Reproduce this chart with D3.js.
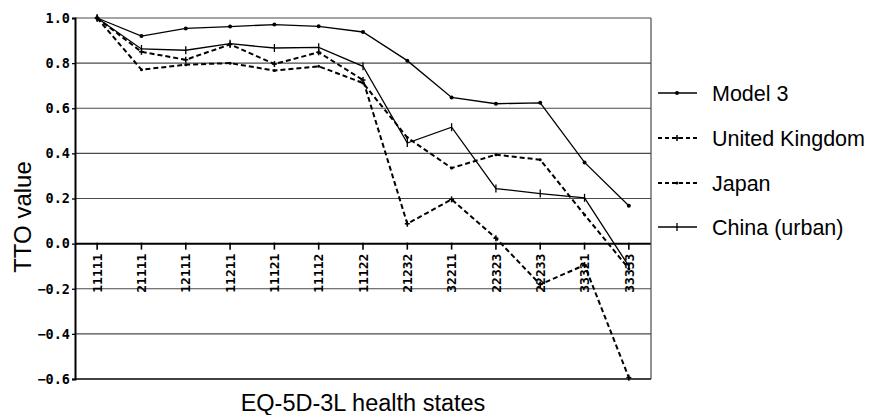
<!DOCTYPE html>
<html><head><meta charset="utf-8">
<script src="https://cdn.jsdelivr.net/npm/d3@7"></script>
<style>html,body{margin:0;padding:0;background:#fff;}svg{display:block;}</style>
</head><body>
<svg id="c" width="880" height="415"></svg>
<script>
const states = ["11111","21111","12111","11211","11121","11112","11122","21232","32211","22323","22233","33321","33333"];
const model3 = [1.0,0.92,0.954,0.962,0.971,0.963,0.938,0.811,0.648,0.62,0.624,0.36,0.168];
const uk     = [1.0,0.85,0.815,0.883,0.796,0.848,0.725,0.088,0.196,0.024,-0.181,-0.095,-0.594];
const japan  = [1.0,0.771,0.793,0.80,0.767,0.786,0.712,0.47,0.335,0.394,0.372,0.128,-0.111];
const china  = [1.0,0.863,0.857,0.886,0.867,0.870,0.786,0.446,0.516,0.244,0.222,0.203,-0.1];
const yTicks = [1.0,0.8,0.6,0.4,0.2,0.0,-0.2,-0.4,-0.6];
const seriesNames = ["Model 3","United Kingdom","Japan","China (urban)"];

const svg = d3.select("#c");
const L=75,R=651,T=18,B=379;
const x = d3.scalePoint().domain(states).range([L,R]).padding(0.5);
const y = d3.scaleLinear().domain([-0.6,1.0]).range([B,T]);

// gridlines
svg.append("g").selectAll("line").data(yTicks).join("line")
  .attr("x1",L).attr("x2",R).attr("y1",d=>y(d)).attr("y2",d=>y(d))
  .attr("stroke",d=>d===0?"#000":"#4a4a4a").attr("stroke-width",d=>d===0?2:1.2);
svg.append("line").attr("x1",R).attr("x2",R).attr("y1",T).attr("y2",B).attr("stroke","#4a4a4a").attr("stroke-width",1.2);
svg.append("line").attr("x1",L).attr("x2",R).attr("y1",B).attr("y2",B).attr("stroke","#222").attr("stroke-width",1.5);

// y axis
const yAxis = d3.axisLeft(y).tickValues(yTicks).tickSize(3).tickPadding(2)
  .tickFormat(d=>{const s=d3.format(".1f")(Math.abs(d)); return (d<0?"\u2212":"")+s;});
const ga = svg.append("g").attr("transform",`translate(${L},0)`).call(yAxis);
ga.attr("font-family",null).attr("font-size",null);
ga.select(".domain").attr("stroke","#000").attr("stroke-width",2);
ga.selectAll(".tick line").attr("stroke","#000").attr("stroke-width",1.3);
ga.selectAll(".tick text").style("font-family","'DejaVu Sans Mono', monospace").style("font-weight","bold")
  .style("font-size","13.5px").attr("fill","#000");

// x axis on zero line
const gx = svg.append("g");
gx.selectAll("line").data(states).join("line")
  .attr("x1",d=>x(d)).attr("x2",d=>x(d)).attr("y1",y(0)-1).attr("y2",y(0)+6)
  .attr("stroke","#000").attr("stroke-width",1.6);
gx.selectAll("text").data(states).join("text")
  .attr("transform",d=>`translate(${x(d)},${y(0)+10}) rotate(-90)`)
  .attr("dy","0.36em").attr("text-anchor","end")
  .style("font-family","'DejaVu Sans Mono', monospace").style("font-weight","bold")
  .style("font-size","13px").attr("fill","#000").text(d=>d);

// series
const series = [
  {name:seriesNames[0], vals:model3, dash:null, w:1.3, mark:"dot"},
  {name:seriesNames[1], vals:uk, dash:"5,3", w:2, mark:"plus"},
  {name:seriesNames[2], vals:japan, dash:"5,3", w:2, mark:"sdot"},
  {name:seriesNames[3], vals:china, dash:null, w:1.3, mark:"tick"}
];
const line = d3.line().x((d,i)=>x(states[i])).y(d=>y(d));
function drawMark(g,cx,cy,m){
  if(m==="dot") g.append("circle").attr("cx",cx).attr("cy",cy).attr("r",2).attr("fill","#000");
  else if(m==="sdot") g.append("circle").attr("cx",cx).attr("cy",cy).attr("r",1.5).attr("fill","#000");
  else if(m==="plus"){
    g.append("line").attr("x1",cx-2.5).attr("x2",cx+2.5).attr("y1",cy).attr("y2",cy).attr("stroke","#000").attr("stroke-width",1.5);
    g.append("line").attr("x1",cx).attr("x2",cx).attr("y1",cy-3).attr("y2",cy+3).attr("stroke","#000").attr("stroke-width",1.5);
  } else if(m==="tick"){
    g.append("line").attr("x1",cx).attr("x2",cx).attr("y1",cy-4).attr("y2",cy+4).attr("stroke","#000").attr("stroke-width",1.3);
  }
}
series.forEach(s=>{
  const g = svg.append("g");
  g.append("path").datum(s.vals).attr("d",line).attr("fill","none").attr("stroke","#000")
    .attr("stroke-width",s.w).attr("stroke-dasharray",s.dash);
  s.vals.forEach((v,i)=>drawMark(g,x(states[i]),y(v),s.mark));
});

// legend
const lg = svg.append("g");
const rowY = [93,138,183,227];
series.forEach((s,i)=>{
  const cy=rowY[i];
  lg.append("line").attr("x1",658).attr("x2",697).attr("y1",cy).attr("y2",cy)
    .attr("stroke","#000").attr("stroke-width",s.w).attr("stroke-dasharray",s.dash?"4,3":null);
  drawMark(lg,677,cy,s.mark);
  lg.append("text").attr("x",712).attr("y",cy).attr("dy","0.36em")
    .attr("font-family","'Liberation Sans', Arial, sans-serif").attr("font-size","21.5px").attr("fill","#000").text(s.name);
});

// axis titles
svg.append("text").attr("x",(L+R)/2).attr("y",411).attr("text-anchor","middle")
  .attr("font-family","'Liberation Sans', Arial, sans-serif").attr("font-size","23.5px").attr("fill","#000")
  .text("EQ-5D-3L health states");
svg.append("text").attr("transform","translate(31,217) rotate(-90)").attr("text-anchor","middle")
  .attr("font-family","'Liberation Sans', Arial, sans-serif").attr("font-size","24px").attr("fill","#000")
  .text("TTO value");
</script>
</body></html>
